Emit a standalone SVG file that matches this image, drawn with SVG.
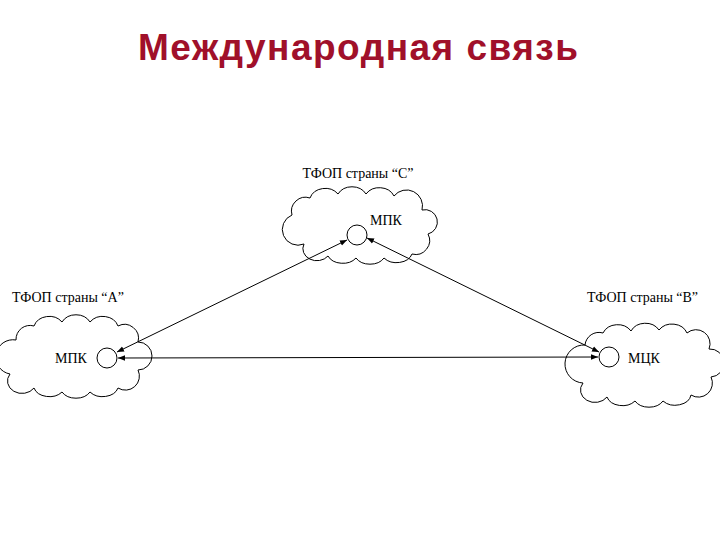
<svg xmlns="http://www.w3.org/2000/svg" width="720" height="540" viewBox="0 0 720 540">
<style>
.t{font-family:"Liberation Serif",serif;font-size:14px;fill:#000}
.cl{fill:#fff;stroke:#000;stroke-width:1}
.c{fill:#fff;stroke:#000;stroke-width:1}
.ln{stroke:#000;stroke-width:1;fill:none;marker-start:url(#a);marker-end:url(#a)}
</style>
<defs>
<marker id="a" viewBox="0 0 10 10" refX="10" refY="5" markerWidth="7" markerHeight="7" orient="auto-start-reverse"><path d="M0,1L10,5L0,9z" fill="#000"/></marker>
</defs>
<rect width="720" height="540" fill="#fff"/>
<text x="358" y="60" text-anchor="middle" textLength="440" style="font-family:'Liberation Sans',sans-serif;font-size:37px;font-weight:bold;fill:#a0102a">Международная связь</text>
<g id="nodeC">
<text class="t" x="358" y="178" text-anchor="middle">ТФОП страны “С”</text>
<path class="cl" d="M292,215 a14,14 0 0 1 18,-17 a16,14 0 0 1 28,-4 a16,14 0 0 1 28,0 a16,14 0 0 1 28,2 a16,16 0 0 1 28,14 a12,12 0 0 1 6,24 a14,14 0 0 1 -16,20 a16,12 0 0 1 -28,4 a16,12 0 0 1 -28,0 a16,12 0 0 1 -28,-2 a14,12 0 0 1 -24,-12 a12,12 0 0 1 -12,-29 z"/>
<circle class="c" cx="357" cy="235" r="10"/>
<text class="t" x="370" y="225">МПК</text>
</g>
<g id="nodeA">
<text class="t" x="12" y="302">ТФОП страны “А”</text>
<path class="cl" d="M16,340 a14,14 0 0 1 18,-14 a16,14 0 0 1 28,-4 a16,14 0 0 1 28,0 a16,14 0 0 1 28,4 a14,14 0 0 1 20,16 a12,12 0 0 1 0,28 a14,14 0 0 1 -20,18 a16,12 0 0 1 -28,4 a16,12 0 0 1 -28,0 a16,12 0 0 1 -28,-4 a14,12 0 0 1 -24,-14 a12,12 0 0 1 6,-34 z"/>
<circle class="c" cx="107" cy="358" r="10"/>
<text class="t" x="55" y="363">МПК</text>
</g>
<g id="nodeB">
<text class="t" x="587" y="302">ТФОП страны “В”</text>
<path class="cl" d="M585,345 a14,14 0 0 1 18,-12 a16,14 0 0 1 28,-2 a16,14 0 0 1 28,-1 a16,14 0 0 1 28,3 a14,14 0 0 1 22,16 a12,12 0 0 1 2,28 a14,14 0 0 1 -20,18 a16,12 0 0 1 -28,6 a16,12 0 0 1 -28,0 a16,12 0 0 1 -28,-4 a14,12 0 0 1 -24,-14 a12,12 0 0 1 2,-38 z"/>
<circle class="c" cx="609" cy="357" r="10"/>
<text class="t" x="628" y="363">МЦК</text>
</g>
<g id="connectors">
<line class="ln" x1="117" y1="352" x2="347" y2="240"/>
<line class="ln" x1="367" y1="238" x2="599" y2="352"/>
<line class="ln" x1="118" y1="358" x2="598" y2="357"/>
</g>
</svg>
